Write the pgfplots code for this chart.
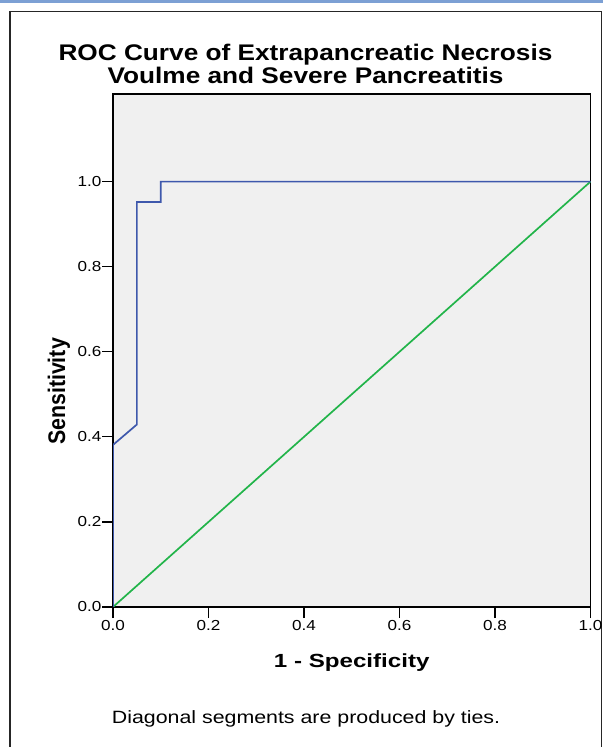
\documentclass[border=0pt]{standalone}
\usepackage{pgfplots}
\pgfplotsset{compat=1.18}
\usepackage{fontspec}
\setmainfont{Liberation Sans}
\newfontfamily\titlefont[FakeStretch=1.16]{Liberation Sans}
\newfontfamily\xlabfont[FakeStretch=1.27]{Liberation Sans}
\newfontfamily\ylabfont[FakeStretch=0.89]{Liberation Sans}
\newfontfamily\notefont[FakeStretch=1.2]{Liberation Sans}
\newfontfamily\tickfont[FakeStretch=1.18]{Liberation Sans}

\definecolor{rocblue}{RGB}{62,88,172}
\definecolor{refgreen}{RGB}{34,180,74}
\definecolor{panel}{RGB}{240,240,240}
\definecolor{topbar}{RGB}{124,160,212}

\begin{document}
\begin{tikzpicture}[x=1bp,y=1bp]
\useasboundingbox (0,0) rectangle (603,747);
\fill[white] (0,0) rectangle (603,747);
\fill[topbar] (0,744) rectangle (603,747);
\draw[black!85,line width=1.3bp] (10,-2) -- (10,735.5) -- (601.5,735.5) -- (601.5,-2);

\node[anchor=base,font=\titlefont\bfseries\fontsize{22.6bp}{24bp}\selectfont] at (305.5,686) {ROC Curve of Extrapancreatic Necrosis};
\node[anchor=base,font=\titlefont\bfseries\fontsize{22.6bp}{24bp}\selectfont] at (305.5,663.7) {Voulme and Severe Pancreatitis};

\begin{axis}[
  at={(113bp,140bp)}, anchor=south west,
  scale only axis,
  width=477.5bp, height=513bp,
  xmin=0, xmax=1, ymin=0, ymax=1.206,
  xtick={0,0.2,0.4,0.6,0.8,1},
  xticklabels={0.0,0.2,0.4,0.6,0.8,1.0},
  ytick={0,0.2,0.4,0.6,0.8,1},
  yticklabels={0.0,0.2,0.4,0.6,0.8,1.0},
  tick align=outside, tick pos=left,
  major tick length=11bp,
  tick style={black, line width=1.2bp},
  axis line style={black, line width=1.3bp},
  axis background/.style={fill=panel},
  ticklabel style={font=\tickfont\fontsize{14.5bp}{14.5bp}\selectfont},
  yticklabel style={inner xsep=0.5bp},
  xticklabel style={inner ysep=2bp},
  xlabel={1 - Specificity},
  ylabel={Sensitivity},
  xlabel style={font=\xlabfont\bfseries\fontsize{19bp}{20bp}\selectfont,
    at={(axis description cs:0.5,-0.117)}, anchor=base},
  ylabel style={font=\ylabfont\bfseries\fontsize{24bp}{25bp}\selectfont,
    at={(axis description cs:-0.1005,0.42)}, anchor=base},
]
\addplot[refgreen, line width=1.7bp] coordinates {(0,0) (1,1)};
\addplot[rocblue, line width=1.7bp] coordinates {
  (0,0) (0,0.381) (0.05,0.429) (0.05,0.952) (0.1,0.952) (0.1,1) (1,1)};
\end{axis}

\node[anchor=base,font=\notefont\fontsize{17.8bp}{18bp}\selectfont] at (306,23.7) {Diagonal segments are produced by ties.};
\end{tikzpicture}
\end{document}
